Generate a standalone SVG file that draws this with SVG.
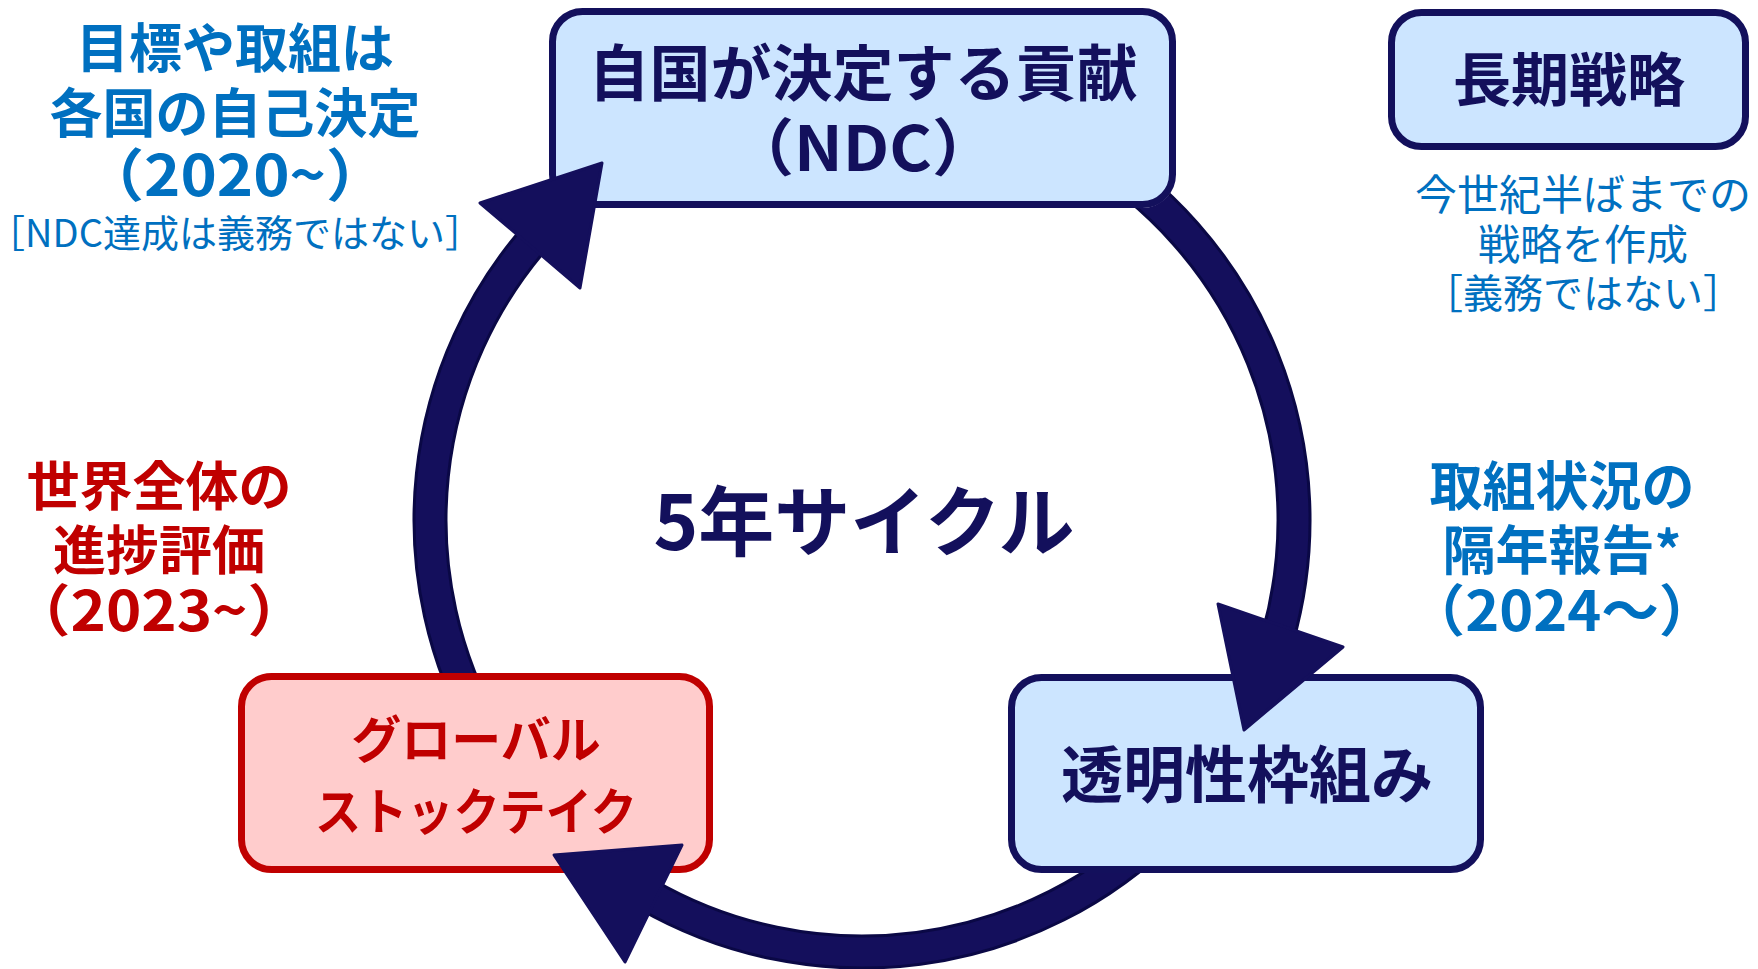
<svg xmlns="http://www.w3.org/2000/svg" width="1758" height="969" viewBox="0 0 1758 969">
<style>
text{font-family:"Noto Sans CJK JP","Noto Sans CJK SC",sans-serif;text-anchor:middle}
.b{font-weight:700}
.r{font-weight:400}
.navy{fill:#13105C}
.blue{fill:#0070C0}
.red{fill:#C00000}
.nb{fill:#CCE5FF;stroke:#13105C;stroke-width:7}
.rb{fill:#FFCCCC;stroke:#C00000;stroke-width:7}
.arcO{fill:none;stroke:#0A0845;stroke-width:35}
.arcI{fill:none;stroke:#140F5C;stroke-width:29}
.head{fill:#140F5C;stroke:#140F5C;stroke-width:3;stroke-linejoin:round}
</style>
<defs>
<mask id="boxmask" maskUnits="userSpaceOnUse" x="0" y="0" width="1758" height="969">
<rect x="0" y="0" width="1758" height="969" fill="#fff"/>
<rect x="549" y="8" width="627" height="200" rx="34" fill="#000"/>
<rect x="1008" y="674" width="476" height="199" rx="34" fill="#000"/>
<rect x="238" y="673" width="475" height="200" rx="34" fill="#000"/>
</mask>
</defs>
<rect width="1758" height="969" fill="#fff"/>

<g id="label-left">
<text class="b blue" x="235" y="68" font-size="53">目標や取組は</text>
<text class="b blue" x="235" y="133" font-size="53">各国の自己決定</text>
<text class="b blue" x="235" y="196" font-size="57" textLength="305" lengthAdjust="spacingAndGlyphs">（2020~）</text>
<text class="r blue" x="235" y="247" font-size="38">［NDC達成は義務ではない］</text>
</g>

<g id="label-longterm">
<text class="r blue" x="1583" y="210" font-size="42">今世紀半ばまでの</text>
<text class="r blue" x="1583" y="260" font-size="42">戦略を作成</text>
<text class="r blue" x="1583" y="308" font-size="40">［義務ではない］</text>
</g>

<g id="label-gst">
<text class="b red" x="159" y="506" font-size="53">世界全体の</text>
<text class="b red" x="159" y="570" font-size="53">進捗評価</text>
<text class="b red" x="159" y="631" font-size="56" textLength="297" lengthAdjust="spacingAndGlyphs">（2023~）</text>
</g>

<g id="label-report">
<text class="b blue" x="1562" y="506" font-size="53">取組状況の</text>
<text class="b blue" x="1562" y="570" font-size="53">隔年報告*</text>
<text class="b blue" x="1562" y="631" font-size="56" textLength="309" lengthAdjust="spacingAndGlyphs">（2024～）</text>
</g>

<g id="center-label">
<text class="b navy" x="864" y="550" font-size="76">5年サイクル</text>
</g>

<g id="node-ndc">
<rect class="nb" x="552.5" y="11.5" width="620" height="193" rx="30"/>
<text class="b navy" x="863" y="96" font-size="61">自国が決定する貢献</text>
<text class="b navy" x="863" y="171" font-size="62" textLength="268" lengthAdjust="spacingAndGlyphs">（NDC）</text>
</g>

<g id="node-longterm">
<rect class="nb" x="1391.5" y="12.5" width="354" height="134" rx="30"/>
<text class="b navy" x="1569" y="101" font-size="58">長期戦略</text>
</g>

<g id="node-transparency">
<rect class="nb" x="1011.5" y="677.5" width="469" height="192" rx="30"/>
<text class="b navy" x="1247" y="798" font-size="62">透明性枠組み</text>
</g>

<g id="node-gst">
<rect class="rb" x="241.5" y="676.5" width="468" height="193" rx="30"/>
<text class="b red" x="476" y="758" font-size="50">グローバル</text>
<text class="b red" x="476" y="830" font-size="50" textLength="322" lengthAdjust="spacingAndGlyphs">ストックテイク</text>
</g>

<g id="connectors">
<g mask="url(#boxmask)">
<path class="arcO" d="M487.9 736 A432 432 0 0 1 541 230.9"/>
<path class="arcI" d="M487.9 736 A432 432 0 0 1 541 230.9"/>
<path class="arcO" d="M1078 145.9 A432 432 0 0 1 1277.3 639.1"/>
<path class="arcI" d="M1078 145.9 A432 432 0 0 1 1277.3 639.1"/>
<path class="arcO" d="M1167.5 825.5 A432 432 0 0 1 646 894.1"/>
<path class="arcI" d="M1167.5 825.5 A432 432 0 0 1 646 894.1"/>
</g>
<polygon class="head" points="480,203 602,163 580,288"/>
<polygon class="head" points="1218,604 1343,647 1244,730"/>
<polygon class="head" points="554,855 682,845 625,962"/>
</g>
</svg>
